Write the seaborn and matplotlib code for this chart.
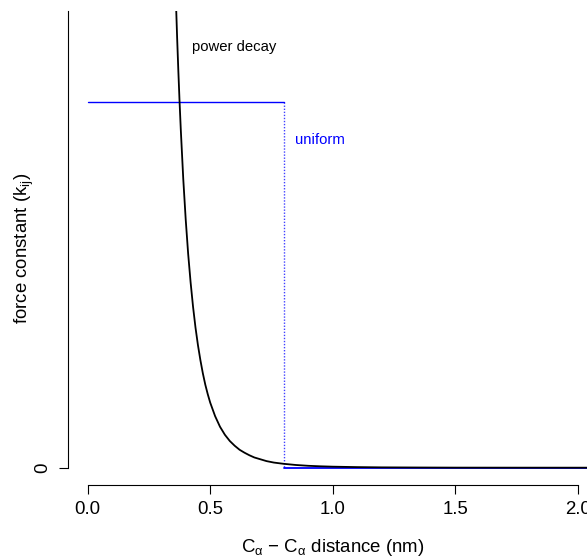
import numpy as np
import pandas as pd
import seaborn as sns
import matplotlib
matplotlib.use("Agg")
import matplotlib.pyplot as plt

# ---- data ----
# power-decay force constant (distance in nm, relative force constant)
decay_r = [0.355, 0.36, 0.365, 0.37, 0.375, 0.38, 0.39, 0.40, 0.41, 0.42, 0.43,
           0.44, 0.45, 0.46, 0.47, 0.48, 0.49, 0.50, 0.52, 0.54, 0.56, 0.58,
           0.60, 0.62, 0.64, 0.66, 0.68, 0.70, 0.73, 0.76, 0.80, 0.85, 0.90,
           0.95, 1.00, 1.10, 1.20, 1.35, 1.50, 1.75, 2.10]
decay_k = [1.389, 1.278, 1.176, 1.084, 1.000, 0.924, 0.790, 0.679, 0.585, 0.507,
           0.440, 0.383, 0.335, 0.294, 0.258, 0.227, 0.201, 0.178, 0.141, 0.112,
           0.090, 0.073, 0.060, 0.049, 0.041, 0.034, 0.028, 0.024, 0.018, 0.014,
           0.0106, 0.0074, 0.0052, 0.0038, 0.0028, 0.0016, 0.0009, 0.0005,
           0.0002, 0.0001, 0.00003]

# uniform (cut-off) force constant
uniform_in_r = [0.0, 0.8]
uniform_in_k = [1.0, 1.0]
cutoff_r = [0.8, 0.8]
cutoff_k = [1.0, 0.0]
uniform_out_r = [0.8, 2.1]
uniform_out_k = [0.0, 0.0]

x_ticks = [0.0, 0.5, 1.0, 1.5, 2.0]
x_tick_labels = ["0.0", "0.5", "1.0", "1.5", "2.0"]
y_ticks = [0]
y_tick_labels = ["0"]

# ---- style ----
sns.set_theme(style="white")
plt.rcParams["font.family"] = ["Liberation Sans", "DejaVu Sans"]
plt.rcParams["mathtext.fontset"] = "custom"
plt.rcParams["mathtext.rm"] = "Liberation Sans"
plt.rcParams["mathtext.it"] = "Liberation Sans:italic"
plt.rcParams["mathtext.bf"] = "Liberation Sans:bold"
plt.rcParams["mathtext.sf"] = "Liberation Sans"

W, H = 587, 559
fig = plt.figure(figsize=(W / 100, H / 100), dpi=100)
fig.patch.set_facecolor("white")

left_px, right_px, top_px, bottom_px = 68.1, 597.3, 11.3, 485.25
ax = fig.add_axes([left_px / W, (H - bottom_px) / H,
                   (right_px - left_px) / W, (bottom_px - top_px) / H])
ax.set_facecolor("white")

df_decay = pd.DataFrame({"r": decay_r, "k": decay_k})
df_in = pd.DataFrame({"r": uniform_in_r, "k": uniform_in_k})
df_cut = pd.DataFrame({"r": cutoff_r, "k": cutoff_k})
df_out = pd.DataFrame({"r": uniform_out_r, "k": uniform_out_k})

sns.lineplot(data=df_in, x="r", y="k", ax=ax, color="#0000ff", lw=1.0,
             estimator=None, sort=False)
sns.lineplot(data=df_out, x="r", y="k", ax=ax, color="#0000ff", lw=1.3,
             estimator=None, sort=False)
sns.lineplot(data=df_cut, x="r", y="k", ax=ax, color="#0000ff", lw=1.0,
             estimator=None, sort=False, linestyle=(0, (1, 1.2)), alpha=0.75)
sns.lineplot(data=df_decay, x="r", y="k", ax=ax, color="black", lw=1.3,
             estimator=None, sort=False)

ax.set_xlim(-0.08, 2.08)
ax.set_ylim(-0.048, 1.248)

for s in ["top", "right"]:
    ax.spines[s].set_visible(False)
for s in ["left", "bottom"]:
    ax.spines[s].set_color("black")
    ax.spines[s].set_linewidth(0.8)
ax.spines["left"].set_bounds(0, 1.248)
ax.spines["bottom"].set_bounds(0, 2.0)

ax.set_xticks(x_ticks)
ax.set_xticklabels(x_tick_labels)
ax.set_yticks(y_ticks)
ax.set_yticklabels(y_tick_labels, rotation=90, va="center")
ax.tick_params(axis="both", which="major", direction="out", length=6.5,
               width=0.8, color="black", labelsize=13.4, labelcolor="black",
               bottom=True, left=True)
ax.tick_params(axis="x", pad=4.5)
ax.tick_params(axis="y", pad=5.5)
ax.set_xlabel("")
ax.set_ylabel("")

ax.text(0.425, 1.15, "power decay", fontsize=10.7, color="black",
        ha="left", va="center")
ax.text(0.845, 0.895, "uniform", fontsize=10.7, color="#0000ff",
        ha="left", va="center")

fig.text(333 / W, (H - 552) / H,
         r"C$_{\mathrm{α}}$ − C$_{\mathrm{α}}$ distance (nm)",
         fontsize=13.4, ha="center", va="baseline", color="black")
fig.text(24 / W, (H - 248) / H, r"force constant (k$_{\mathrm{ij}}$)",
         fontsize=13.4, ha="center", va="center", rotation=90, color="black")

fig.savefig("out.png", dpi=100, facecolor="white")
